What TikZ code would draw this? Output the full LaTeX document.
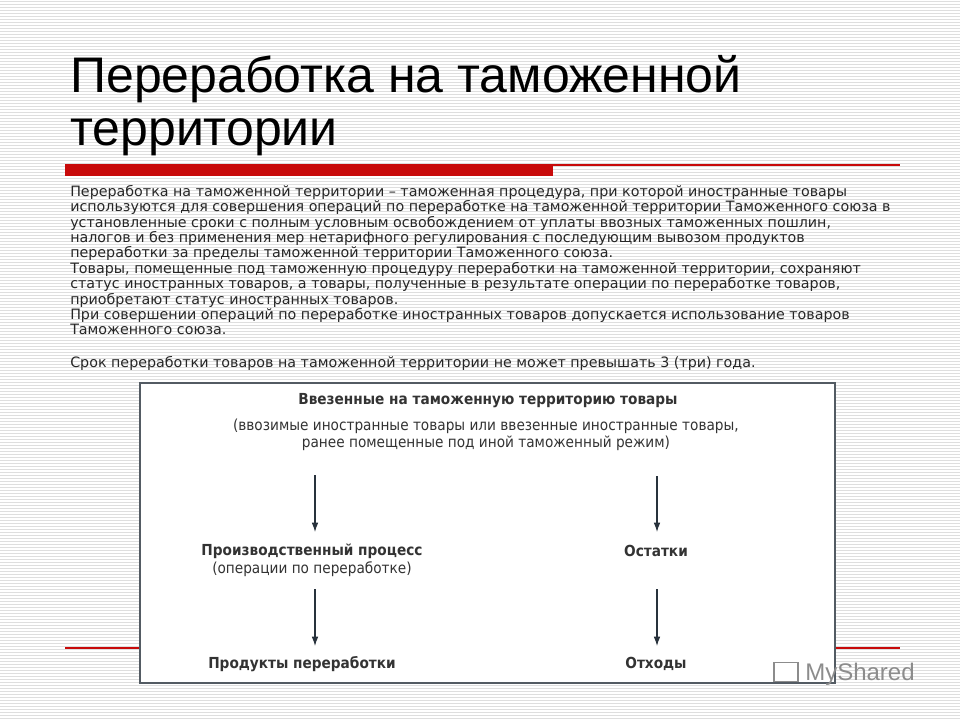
\documentclass[tikz,border=0pt]{standalone}
\usepackage{fontspec}
\setmainfont{DejaVu Sans}
\newfontfamily\condf{DejaVu Sans Condensed}
\newfontfamily\titf{Liberation Sans}
\usetikzlibrary{arrows.meta}
\definecolor{redbar}{RGB}{200,10,10}
\definecolor{stripe}{RGB}{222,222,222}
\definecolor{boxline}{RGB}{40,50,60}
\tikzset{
  body/.style={anchor=north west,align=left,inner sep=0pt,font=\fontsize{10.7}{9.6}\selectfont,text=black!85},
  dlab/.style={inner sep=0pt,font=\condf\fontsize{11.4}{12.5}\selectfont,text=black!80,align=center},
  dbold/.style={dlab,font=\condf\bfseries\fontsize{11.4}{12.5}\selectfont},
  arr/.style={-{Latex[length=7pt,width=5pt]},line width=0.8pt,draw=boxline}
}
\begin{document}
\begin{tikzpicture}[x=0.75pt,y=-0.75pt]
\useasboundingbox (0,0) rectangle (960,720);
\fill[white] (0,0) rectangle (960,720);
\foreach \k in {0,...,239}{\draw[stripe,line width=0.6pt] (0,\k*3+1.5) -- (960,\k*3+1.5);}
\node[anchor=base west,inner sep=0pt,font=\titf\fontsize{37.5}{37.5}\selectfont] (t1) at (70,93) {Переработка на таможенной};
\node[anchor=base west,inner sep=0pt,font=\titf\fontsize{37.5}{37.5}\selectfont] (t2) at (70,146) {территории};
\draw[redbar,line width=0.8pt] (65,165) -- (900,165);
\fill[redbar] (65,165) rectangle (553,176);
\node[body] (p1) at (70,185) {Переработка на таможенной территории – таможенная процедура, при которой иностранные товары\\используются для совершения операций по переработке на таможенной территории Таможенного союза в\\установленные сроки с полным условным освобождением от уплаты ввозных таможенных пошлин,\\налогов и без применения мер нетарифного регулирования с последующим вывозом продуктов\\переработки за пределы таможенной территории Таможенного союза.};
\node[body] (p2) at (70,262) {Товары, помещенные под таможенную процедуру переработки на таможенной территории, сохраняют\\статус иностранных товаров, а товары, полученные в результате операции по переработке товаров,\\приобретают статус иностранных товаров.};
\node[body] (p3) at (70,308) {При совершении операций по переработке иностранных товаров допускается использование товаров\\Таможенного союза.};
\node[body] (p4) at (70,356) {Срок переработки товаров на таможенной территории не может превышать 3 (три) года.};
\draw[redbar,line width=0.8pt] (65,648) -- (900,648);
\node[draw=boxline!80,line width=0.8pt,fill=white,minimum width=695*0.75pt,minimum height=300*0.75pt,inner sep=0pt] (box) at (487.5,533) {};
\node[dbold] (top) at (488,401) {Ввезенные на таможенную территорию товары};
\node[dlab] (topp) at (486,435) {(ввозимые иностранные товары или ввезенные иностранные товары,\\ранее помещенные под иной таможенный режим)};
\coordinate (a1) at (315,475);
\coordinate (b1) at (657,476);
\node[dbold] (prod) at (312,551) {Производственный процесс};
\node[dlab] (prodp) at (312,569) {(операции по переработке)};
\node[dbold] (ost) at (656,551) {Остатки};
\node[dbold] (res) at (302,664) {Продукты переработки};
\node[dbold] (otx) at (656,664) {Отходы};
\draw[arr] (a1) -- (315,532);
\draw[arr] (b1) -- (657,532);
\coordinate (a2) at (315,589);
\coordinate (b2) at (657,589);
\draw[arr] (a2) -- (315,646);
\draw[arr] (b2) -- (657,646);
\node[anchor=west,inner sep=0pt,font=\titf\fontsize{18}{18}\selectfont,text=black!45] (ms) at (805,674) {MyShared};
\node[draw=black!45,line width=1.2pt,minimum width=18pt,minimum height=14pt,inner sep=0pt] (logo) at (786,672) {};
\end{tikzpicture}
\end{document}
